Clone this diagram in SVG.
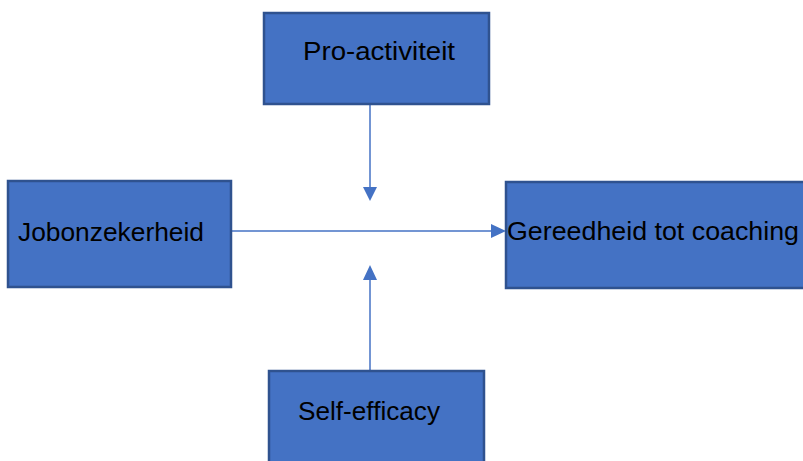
<svg xmlns="http://www.w3.org/2000/svg" width="803" height="461" viewBox="0 0 803 461">
<defs>
<style>
.box{fill:#4472C4;stroke:#2F528F;stroke-width:2.5}
.lbl{font-family:"Liberation Sans","Open Sans",sans-serif;font-size:26px;fill:#000}
.con{stroke:#4472C4;stroke-width:1.5;fill:none}
.head{fill:#4472C4}
</style>
</defs>
<rect width="803" height="461" fill="#fff"/>
<g id="connectors">
<line class="con" x1="370" y1="104" x2="370" y2="188"/>
<polygon class="head" points="363,187 377,187 370,201"/>
<line class="con" x1="231" y1="231" x2="492" y2="231"/>
<polygon class="head" points="491,224 491,238 506,231"/>
<line class="con" x1="370" y1="371" x2="370" y2="279"/>
<polygon class="head" points="363,280 377,280 370,265"/>
</g>
<g id="pro-activiteit">
<rect class="box" x="264" y="13" width="225" height="91"/>
<text class="lbl" x="303" y="60" textLength="152" lengthAdjust="spacingAndGlyphs">Pro-activiteit</text>
</g>
<g id="jobonzekerheid">
<rect class="box" x="8" y="181" width="223" height="106"/>
<text class="lbl" x="18" y="241" textLength="186" lengthAdjust="spacingAndGlyphs">Jobonzekerheid</text>
</g>
<g id="gereedheid">
<rect class="box" x="506" y="182" width="300" height="106"/>
<text class="lbl" x="507" y="240" textLength="292" lengthAdjust="spacingAndGlyphs">Gereedheid tot coaching</text>
</g>
<g id="self-efficacy">
<rect class="box" x="269" y="371" width="215" height="95"/>
<text class="lbl" x="298" y="420" textLength="142" lengthAdjust="spacingAndGlyphs">Self-efficacy</text>
</g>
</svg>
